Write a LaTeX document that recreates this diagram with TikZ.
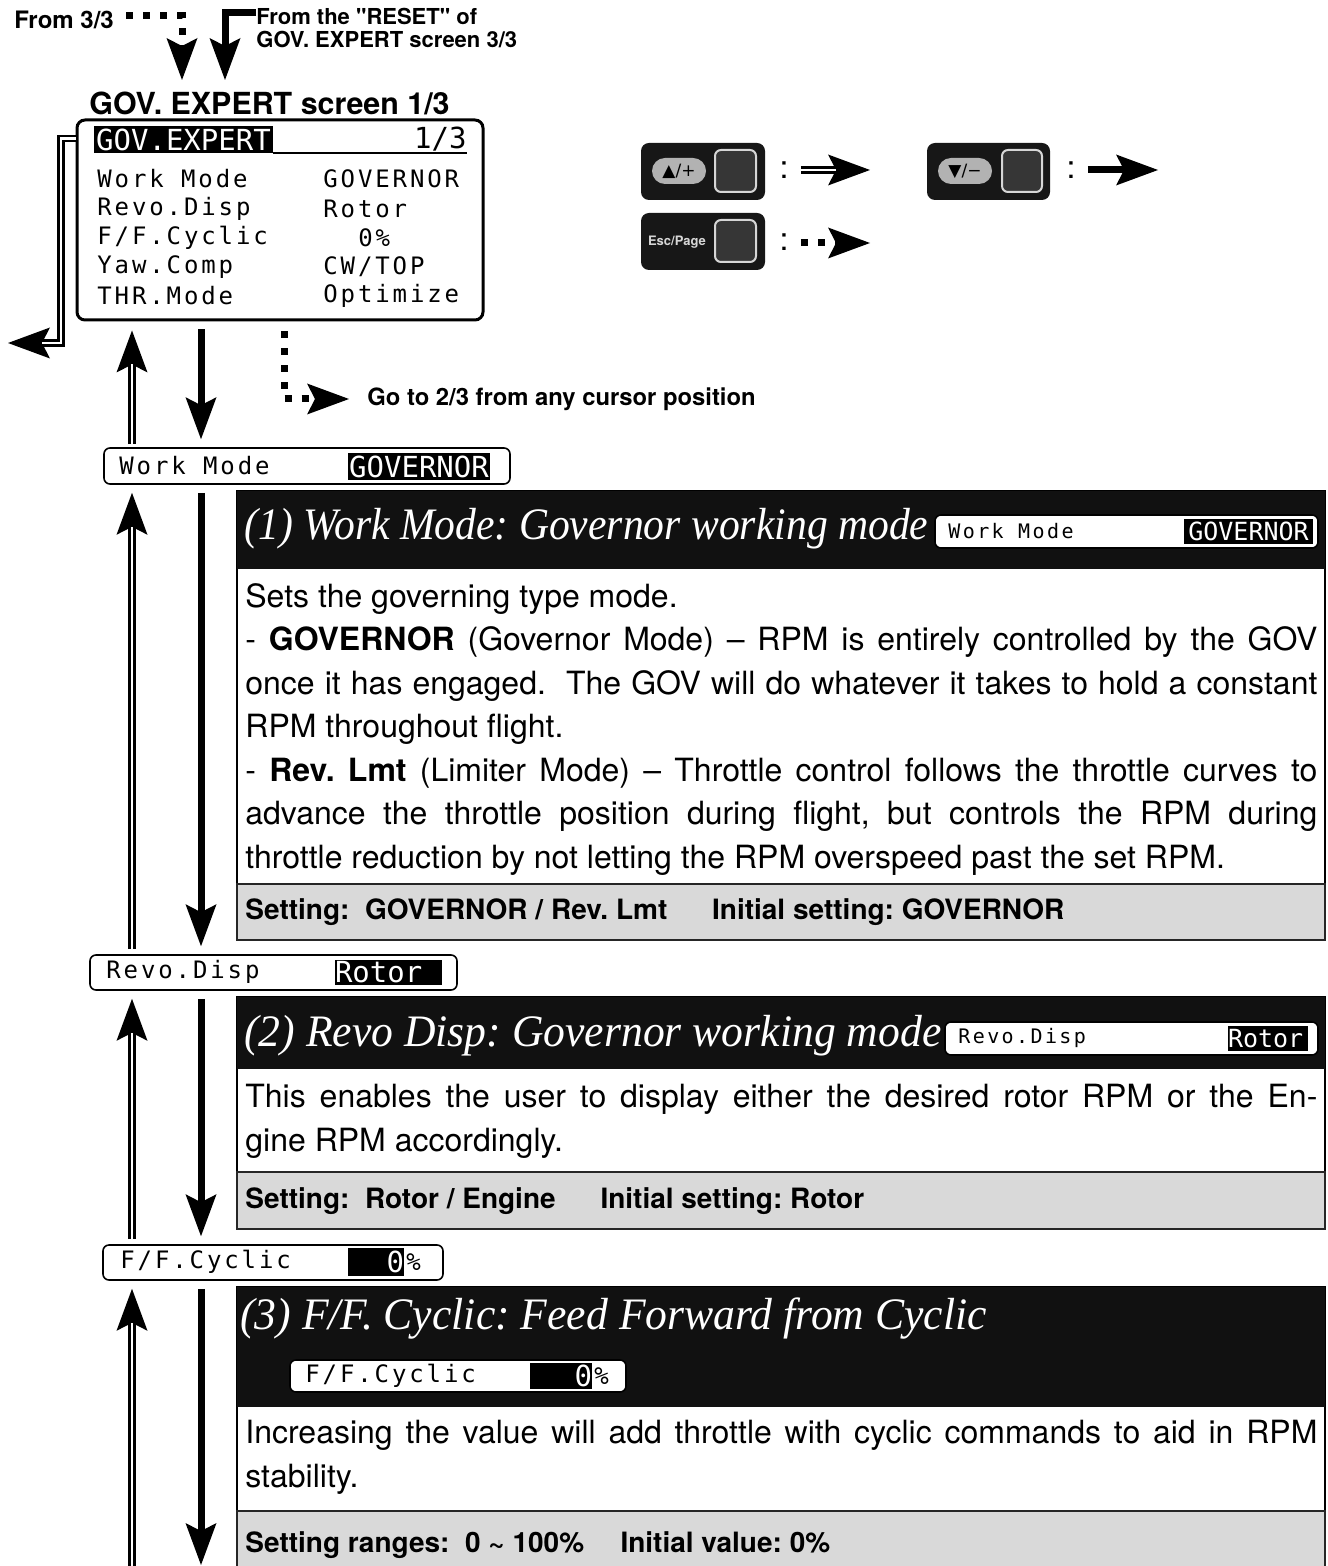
\documentclass[tikz,border=0pt]{standalone}
\usepackage{fontspec}
\setmainfont{TeX Gyre Heros}
\newfontfamily\plainsans[Ligatures=TeXOff]{TeX Gyre Heros}
\newfontfamily\titlefont[FakeStretch=0.97]{Liberation Serif}
\newfontfamily\titlenarrow[FakeStretch=0.925]{Liberation Serif}
\newfontfamily\lcdfont[LetterSpace=12]{DejaVu Sans Mono}
\newfontfamily\lcdbig{DejaVu Sans Mono}
\newfontfamily\keyfont{DejaVu Sans}
\usetikzlibrary{arrows.meta,fit,positioning}
\setlength{\parindent}{0pt}
\frenchspacing

\definecolor{keyblack}{HTML}{171717}
\definecolor{pillgray}{HTML}{B2B2B2}
\definecolor{keysquare}{HTML}{363636}
\definecolor{keyrim}{HTML}{D6D6D6}
\definecolor{footgray}{HTML}{D9D9D9}
\definecolor{headblack}{HTML}{111111}

\newcommand{\fs}[2]{\fontsize{#1}{#2}\selectfont}

\tikzset{
  tipped/.style={-{Stealth[length=21pt,width=15.5pt,inset=4pt,line width=0pt]}},
  solarr/.style={tipped,line width=3.5pt},
  dblarr/.style={tipped,line width=3.8pt,
    postaction={draw=white,line width=1.3pt,-,shorten >=17pt}},
  dotarr/.style={tipped,line width=3.5pt,dash pattern=on 3.5pt off 5pt},
  lcdbox/.style={draw,line width=1.5pt,rounded corners=4pt,inner sep=0pt},
  strip/.style={draw,line width=0.8pt,rounded corners=3pt,fill=white,inner sep=0pt},
  inv/.style={fill=black,inner sep=0pt},
  lcdtxt/.style={inner sep=0pt,anchor=west,font=\lcdfont\fs{12}{13}},
  lcdsmall/.style={lcdtxt,font=\lcdfont\fs{10}{11}},
  invtxt/.style={inner sep=0pt,text=white,font=\lcdbig\fs{14.5}{15}},
  invsmall/.style={invtxt,font=\lcdbig\fs{12.5}{13}},
  keybody/.style={fill=keyblack,rounded corners=4pt,inner sep=0pt},
  keypill/.style={fill=pillgray,rounded corners=6.5pt,inner sep=0pt},
  keysq/.style={fill=keysquare,draw=keyrim,line width=1pt,rounded corners=3pt,inner sep=0pt},
  sechead/.style={fill=headblack,inner sep=0pt},
  secbody/.style={draw,line width=1pt,fill=white,inner sep=0pt},
  secfoot/.style={fill=footgray,draw=black!85,line width=1pt,inner sep=0pt},
  sectitle/.style={anchor=west,inner sep=0pt,text=white,font=\titlefont\itshape\fs{22.5}{24}},
  bodytxt/.style={anchor=north west,inner sep=0pt,text width=536pt,align=justify,font=\fs{16}{21.75}},
  foottxt/.style={anchor=west,inner sep=0pt,font=\bfseries\fs{14}{16}},
  lbl/.style={inner sep=0pt,font=\bfseries\fs{11}{11.5}},
  colon/.style={inner sep=0pt,font=\fs{16}{16}}
}

\begin{document}
\begin{tikzpicture}[x=0.5pt,y=-0.5pt]
  \useasboundingbox (0,0) rectangle (1327,1566);
  \clip (0,0) rectangle (1327,1566);

  % entry arrows and screen title
  \node[lbl,anchor=west,font=\bfseries\fs{12}{13}] (from3) at (14,20) {From 3/3};
  \node[lbl,anchor=north west,align=left,font=\plainsans\bfseries\fs{11}{11.5}] (reset) at (256,8) {From the "RESET" of\\GOV. EXPERT screen 3/3};
  \node[anchor=west,inner sep=0pt,font=\bfseries\fs{15.2}{16}] (scrtitle) at (89,103) {GOV. EXPERT screen 1/3};
  \coordinate (dtip) at (182,80);
  \coordinate (stip) at (225,80);
  \draw[dotarr] ([xshift=6pt,yshift=2pt]from3.east) -| (dtip);
  \draw[solarr] ([yshift=-2.5pt]reset.north west) -| (stip);

  % screen 1/3
  \node[lcdbox,fit={(77,120)(483,320)}] (lcd) {};
  \node[inv,fit={(94,126)(273,153)}] (lcdhead) {};
  \node[invtxt] at (lcdhead) {GOV.EXPERT};
  \node[invtxt,text=black,anchor=east] (lcdpage) at (467,139) {1/3};
  \draw[line width=1pt] (lcdhead.south east) -- (lcdhead.south east -| lcdpage.east);
  \node[lcdtxt] (lcdr1) at (97,179) {Work Mode};
  \node[lcdtxt] (lcdr2) at (97,209) {Revo.Disp};
  \node[lcdtxt] (lcdr3) at (97,238) {F/F.Cyclic};
  \node[lcdtxt] (lcdr4) at (97,267) {Yaw.Comp};
  \node[lcdtxt] (lcdr5) at (97,296) {THR.Mode};
  \node[lcdtxt] (lcdv1) at (323,179) {GOVERNOR};
  \node[lcdtxt] (lcdv2) at (323,209) {Rotor};
  \node[lcdtxt] (lcdv3) at (358,238) {0\%};
  \node[lcdtxt] (lcdv4) at (323,267) {CW/TOP};
  \node[lcdtxt] (lcdv5) at (323,296) {Optimize};
  \coordinate (exitturn) at (61,343);
  \coordinate (exitend) at (8,343);
  \draw[dblarr] ([yshift=-10pt]lcd.north west) -| (exitturn) -- (exitend);

  % keys
  \node[keybody,fit={(641,143)(765,200)}] (kup) {};
  \node[keypill,fit={(652,158)(706,184)}] (kuppill) {};
  \node[inner sep=0pt,font=\keyfont\fs{8.5}{9}] at (kuppill) {▲/+};
  \node[keysq,fit={(715,150)(756,192)}] (kupsq) {};
  \node[keybody,fit={(927,143)(1050,200)}] (kdn) {};
  \node[keypill,fit={(938,158)(992,184)}] (kdnpill) {};
  \node[inner sep=0pt,font=\keyfont\fs{8.5}{9}] at (kdnpill) {▼/−};
  \node[keysq,fit={(1002,150)(1042,192)}] (kdnsq) {};
  \node[keybody,fit={(641,213)(765,270)}] (kesc) {};
  \node[keysq,fit={(715,220)(756,262)}] (kescsq) {};
  \node[inner sep=0pt,text=keyrim,font=\bfseries\fs{6.5}{7}] at (677,242) {Esc/Page};
  \node[colon] (col1) at (784,170) {:};
  \node[colon] (col2) at (1071,170) {:};
  \node[colon] (col3) at (784,242) {:};
  \coordinate (lg1) at (870,170);
  \coordinate (lg2) at (1158,170);
  \coordinate (lg3) at (870,243);
  \draw[dblarr] ([xshift=6pt]col1.east) -- (lg1);
  \draw[solarr] ([xshift=6pt]col2.east) -- (lg2);
  \draw[dotarr] ([xshift=6pt,yshift=-0.5pt]col3.east) -- (lg3);

  % page jump
  \node[lbl,anchor=west,font=\bfseries\fs{11.9}{12}] (goto) at (367,399) {Go to 2/3 from any cursor position};
  \coordinate (dotx) at (284,0);
  \draw[dotarr] ([yshift=-5pt]lcd.south -| dotx) |- ([xshift=-9pt]goto.west);

  % cursor rows
  \node[strip,fit={(104,448)(510,484)}] (wm) {};
  \node[lcdtxt] at (119,466) {Work Mode};
  \node[inv,fit={(348,453)(490,480)}] (wmv) {};
  \node[invtxt] at (wmv) {GOVERNOR};

  \node[strip,fit={(90,955)(457,990)}] (revo) {};
  \node[lcdtxt] at (106,972) {Revo.Disp};
  \node[inv,fit={(335,960)(442,985)}] (revov) {};
  \node[invtxt,anchor=west] at (revov.west) {Rotor};

  \node[strip,fit={(103,1245)(443,1280)}] (ffc) {};
  \node[lcdtxt] at (120,1262) {F/F.Cyclic};
  \node[inv,fit={(348,1248)(404,1276)}] (ffcv) {};
  \node[invtxt,anchor=east] at (ffcv.east) {0};
  \node[lcdtxt] at (406,1262) {\%};

  \coordinate (upx) at (132,0);
  \coordinate (dnx) at (201,0);
  \coordinate (endup) at (132,1570);
  \coordinate (enddn) at (201,1565);
  \draw[dblarr] ([yshift=1.5pt]wm.north -| upx) -- ([yshift=-4.5pt]lcd.south -| upx);
  \draw[solarr] ([yshift=-4pt]lcd.south -| dnx) -- ([yshift=4pt]wm.north -| dnx);
  \draw[dblarr] ([yshift=2.5pt]revo.north -| upx) -- ([yshift=-4pt]wm.south -| upx);
  \draw[solarr] ([yshift=-4pt]wm.south -| dnx) -- ([yshift=4pt]revo.north -| dnx);
  \draw[dblarr] ([yshift=2.5pt]ffc.north -| upx) -- ([yshift=-4pt]revo.south -| upx);
  \draw[solarr] ([yshift=-4pt]revo.south -| dnx) -- ([yshift=4pt]ffc.north -| dnx);
  \draw[dblarr] (endup) -- ([yshift=-4pt]ffc.south -| upx);
  \draw[solarr] ([yshift=-4pt]ffc.south -| dnx) -- (enddn);

  % (1) work mode
  \node[secbody,fit={(237,491)(1325,940)}] (sec1) {};
  \node[sechead,fit={(237,491)(1325,569)}] (sec1h) {};
  \node[secfoot,fit={(237,884)(1325,940)}] (sec1f) {};
  \node[sectitle,font=\titlenarrow\itshape\fs{22.5}{24}] at (244,529) {(1) Work Mode: Governor working mode};
  \node[strip,fit={(935,515)(1318,548)}] (wm1) {};
  \node[lcdsmall] at (948,531) {Work Mode};
  \node[inv,fit={(1184,519)(1313,544)}] (wm1v) {};
  \node[invsmall] at (wm1v) {GOVERNOR};
  \node[bodytxt] (sec1t) at (245,583) {Sets the governing type mode.\par
    - \textbf{GOVERNOR} (Governor Mode) – RPM is entirely controlled by the GOV\linebreak
    once it has engaged.\ \ The GOV will do whatever it takes to hold a constant\linebreak
    RPM throughout flight.\par
    - \textbf{Rev. Lmt} (Limiter Mode) – Throttle control follows the throttle curves to\linebreak
    advance the throttle position during flight, but controls the RPM during\linebreak
    throttle reduction by not letting the RPM overspeed past the set RPM.};
  \node[foottxt] at (245,912) {Setting:\ \ GOVERNOR / Rev. Lmt\hspace{1.6em}Initial setting: GOVERNOR};

  % (2) revo disp
  \node[secbody,fit={(237,997)(1325,1229)}] (sec2) {};
  \node[sechead,fit={(237,997)(1325,1069)}] (sec2h) {};
  \node[secfoot,fit={(237,1172)(1325,1229)}] (sec2f) {};
  \node[sectitle] at (244,1036) {(2) Revo Disp: Governor working mode};
  \node[strip,fit={(945,1022)(1318,1055)}] (revo2) {};
  \node[lcdsmall] at (958,1038) {Revo.Disp};
  \node[inv,fit={(1228,1026)(1308,1051)}] (revo2v) {};
  \node[invsmall,anchor=west] at (revo2v.west) {Rotor};
  \node[bodytxt] (sec2t) at (245,1084) {This enables the user to display either the desired rotor RPM or the En-\linebreak
    gine RPM accordingly.};
  \node[foottxt] at (245,1201) {Setting:\ \ Rotor / Engine\hspace{1.6em}Initial setting: Rotor};

  % (3) f/f cyclic
  \node[secbody,fit={(237,1287)(1325,1580)}] (sec3) {};
  \node[sechead,fit={(237,1287)(1325,1407)}] (sec3h) {};
  \node[secfoot,fit={(237,1511)(1325,1580)}] (sec3f) {};
  \node[sectitle] at (240,1318) {(3) F/F. Cyclic: Feed Forward from Cyclic};
  \node[strip,fit={(290,1360)(626,1392)}] (ffc3) {};
  \node[lcdtxt] at (305,1376) {F/F.Cyclic};
  \node[inv,fit={(530,1363)(592,1389)}] (ffc3v) {};
  \node[invtxt,anchor=east] at (ffc3v.east) {0};
  \node[lcdtxt] at (594,1376) {\%};
  \node[bodytxt] (sec3t) at (245,1420) {Increasing the value will add throttle with cyclic commands to aid in RPM\linebreak
    stability.};
  \node[foottxt] at (245,1545) {Setting ranges:\ \ 0 \textasciitilde{} 100\%\hspace{1.3em}Initial value: 0\%};
\end{tikzpicture}
\end{document}
